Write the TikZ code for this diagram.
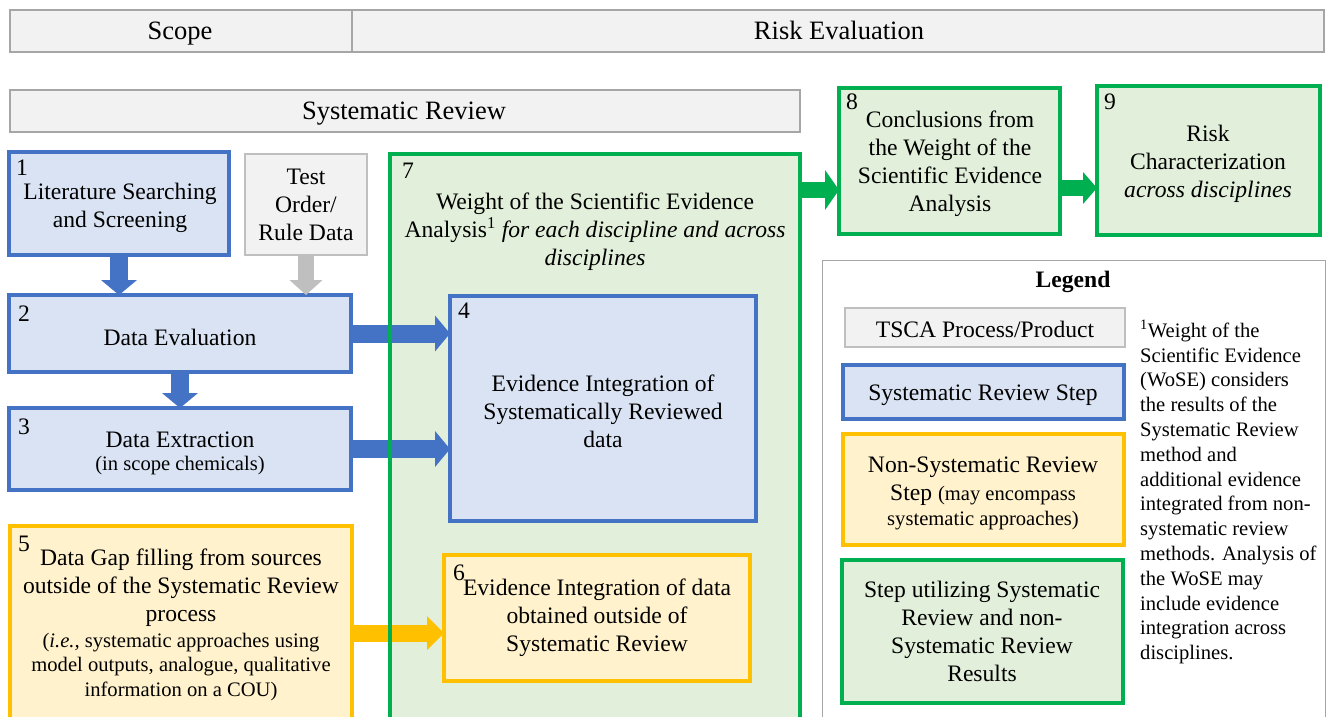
\documentclass[tikz,border=0pt]{standalone}
\usepackage{fontspec}
\setmainfont{Liberation Serif}
\usetikzlibrary{arrows.meta,calc}
\definecolor{bblue}{HTML}{4472C4}
\definecolor{bfill}{HTML}{DAE3F3}
\definecolor{ggreen}{HTML}{00B050}
\definecolor{gfill}{HTML}{E2EFDA}
\definecolor{yyel}{HTML}{FFC000}
\definecolor{yfill}{HTML}{FFF2CC}
\definecolor{grayb}{HTML}{BFBFBF}
\definecolor{grayf}{HTML}{F2F2F2}
\definecolor{hbord}{HTML}{A6A6A6}
\newcommand\mkbox[6]{\node[#2, minimum width={(#5-#3)*1pt}, minimum height={(#6-#4)*1pt}] (#1) at ({(#3+#5)/2},{(#4+#6)/2}) {};}
\newcommand\nsz{\fontsize{23.6}{28}\selectfont}
\newcommand\ssz{\fontsize{20.6}{24.8}\selectfont}
\tikzset{
  anybox/.style={rectangle, inner sep=0pt, outer sep=0pt},
  sbox/.style={anybox, draw=bblue, fill=bfill, line width=4pt},
  gbox/.style={anybox, draw=ggreen, fill=gfill, line width=4pt},
  gfillbox/.style={anybox, fill=gfill},
  ybox/.style={anybox, draw=yyel, fill=yfill, line width=4pt},
  tbox/.style={anybox, draw=grayb, fill=grayf, line width=2pt},
  hbar/.style={anybox, draw=hbord, fill=grayf, line width=1.2pt},
  legbox/.style={anybox, draw=hbord, line width=1pt},
  txt/.style={font=\nsz, align=center, inner sep=0pt},
  stxt/.style={font=\ssz, align=center, inner sep=0pt},
  htxt/.style={font=\fontsize{26.5}{30}\selectfont, inner sep=0pt, anchor=base},
  num/.style={font=\nsz, inner sep=0pt},
  barr/.style={draw=bblue, line width=18pt, -{Triangle[length=15pt,width=36pt,line width=0pt]}},
  grarr/.style={draw=grayb, line width=16pt, -{Triangle[length=15pt,width=33pt,line width=0pt]}},
  yarr/.style={draw=yyel, line width=17pt, -{Triangle[length=17pt,width=34pt,line width=0pt]}},
  garr/.style={draw=ggreen, line width=16pt, -{Triangle[length=14pt,width=#1,line width=0pt]}},
}
\begin{document}
\begin{tikzpicture}[x=1pt,y=-1pt]
\useasboundingbox (0,0) rectangle (1326,717);
\clip (0,0) rectangle (1326,717);
\fill[white] (0,0) rectangle (1326,717);
% header bars
\mkbox{scope}{hbar}{10}{10}{352}{52}
\mkbox{risk}{hbar}{352}{10}{1324}{52}
\mkbox{sr}{hbar}{10}{90}{800}{132}
\node[htxt] (tscope) at (180,40) {Scope};
\node[htxt] (trisk) at (839,40) {Risk Evaluation};
\node[htxt] (tsr) at (404,120) {Systematic Review};
% main boxes
\mkbox{b7}{gfillbox}{390}{154}{800}{760}
\mkbox{b4}{sbox}{450}{296}{756}{521}
\mkbox{b6}{ybox}{444}{555}{750}{681}
\mkbox{b1}{sbox}{9}{152}{229}{255}
\mkbox{bt}{tbox}{245}{154}{367}{255}
\mkbox{b2}{sbox}{9}{295}{351}{372}
\mkbox{b3}{sbox}{9}{408}{351}{490}
\mkbox{b5}{ybox}{10}{526}{352}{740}
% connectors
\draw[barr] (b1.south) -- (b1.south |- b2.north);
\draw[grarr] (bt.south) -- (bt.south |- b2.north);
\draw[barr] (b2.south) -- (b3.north);
\draw[barr] (b2.east) -- (b4.west |- b2.east);
\draw[barr] (b3.east) -- (b4.west |- b3.east);
\draw[yarr] (b5.east) -- (b6.west |- b5.east);
\draw[ggreen, line width=4pt] (b7.north west) rectangle (b7.south east);
\mkbox{b8}{gbox}{839}{88}{1060}{234}
\mkbox{b9}{gbox}{1097}{86}{1320}{235}
\coordinate (a78) at (0,190);
\coordinate (a89) at (0,188);
\draw[garr=40pt] (b7.east |- a78) -- (b8.west |- a78);
\draw[garr=32pt] (b8.east |- a89) -- (b9.west |- a89);
% legend
\mkbox{leg}{legbox}{822}{260}{1325}{760}
\mkbox{l1}{tbox}{845}{308}{1125}{347}
\mkbox{l2}{sbox}{843}{365}{1124}{419}
\mkbox{l3}{ybox}{843}{434}{1124}{545}
\mkbox{l4}{gbox}{842}{560}{1123}{703}
% numbers
\node[num] (n1) at (22,168) {1};
\node[num] (n2) at (24,314) {2};
\node[num] (n3) at (24,427) {3};
\node[num] (n5) at (24,544) {5};
\node[num] (n7) at (408,171) {7};
\node[num] (n4) at (464,311) {4};
\node[num] (n6) at (459,573) {6};
\node[num] (n8) at (852,102) {8};
\node[num] (n9) at (1110,102) {9};
% texts
\node[txt] (t1) at (120,208) {Literature Searching\\and Screening};
\node[txt] (tt) at (306,205) {Test\\Order/\\Rule Data};
\node[txt] (t2) at (180,337) {Data Evaluation};
\node[txt] (t3a) at (180,440) {Data Extraction};
\node[stxt] (t3b) at (180,466) {(in scope chemicals)};
\node[txt] (t5a) at (181,588) {Data Gap filling from sources\\outside of the Systematic Review\\process};
\node[stxt] (t5b) at (181,667) {(\textit{i.e.,} systematic approaches using\\model outputs, analogue, qualitative\\information on a COU)};
\node[txt] (t7) at (595,232) {Weight of the Scientific Evidence\\Analysis\textsuperscript{1} \textit{for each discipline and across}\\\textit{disciplines}};
\node[txt] (t4) at (603,411) {Evidence Integration of\\Systematically Reviewed\\data};
\node[txt] (t6) at (597,618) {Evidence Integration of data\\obtained outside of\\Systematic Review};
\node[txt] (t8) at (950,164) {Conclusions from\\the Weight of the\\Scientific Evidence\\Analysis};
\node[txt] (t9) at (1208,164) {Risk\\Characterization\\\textit{across disciplines}};
\node[txt, font=\nsz\bfseries] (tleg) at (1073,282) {Legend};
\node[txt] (tl1) at (985,329) {TSCA Process/Product};
\node[txt] (tl2) at (983,395) {Systematic Review Step};
\node[txt] (tl3) at (983,493) {Non-Systematic Review\\Step {\ssz(may encompass}\\[-3pt]{\ssz systematic approaches)}};
\node[txt] (tl4) at (982,631) {Step utilizing Systematic\\Review and non-\\Systematic Review\\Results};
\node[stxt, align=left, anchor=north west] (foot) at (1140,320) {\textsuperscript{1}Weight of the\\Scientific Evidence\\(WoSE) considers\\the results of the\\Systematic Review\\method and\\additional evidence\\integrated from non-\\systematic review\\methods. Analysis of\\the WoSE may\\include evidence\\integration across\\disciplines.};
\end{tikzpicture}
\end{document}
